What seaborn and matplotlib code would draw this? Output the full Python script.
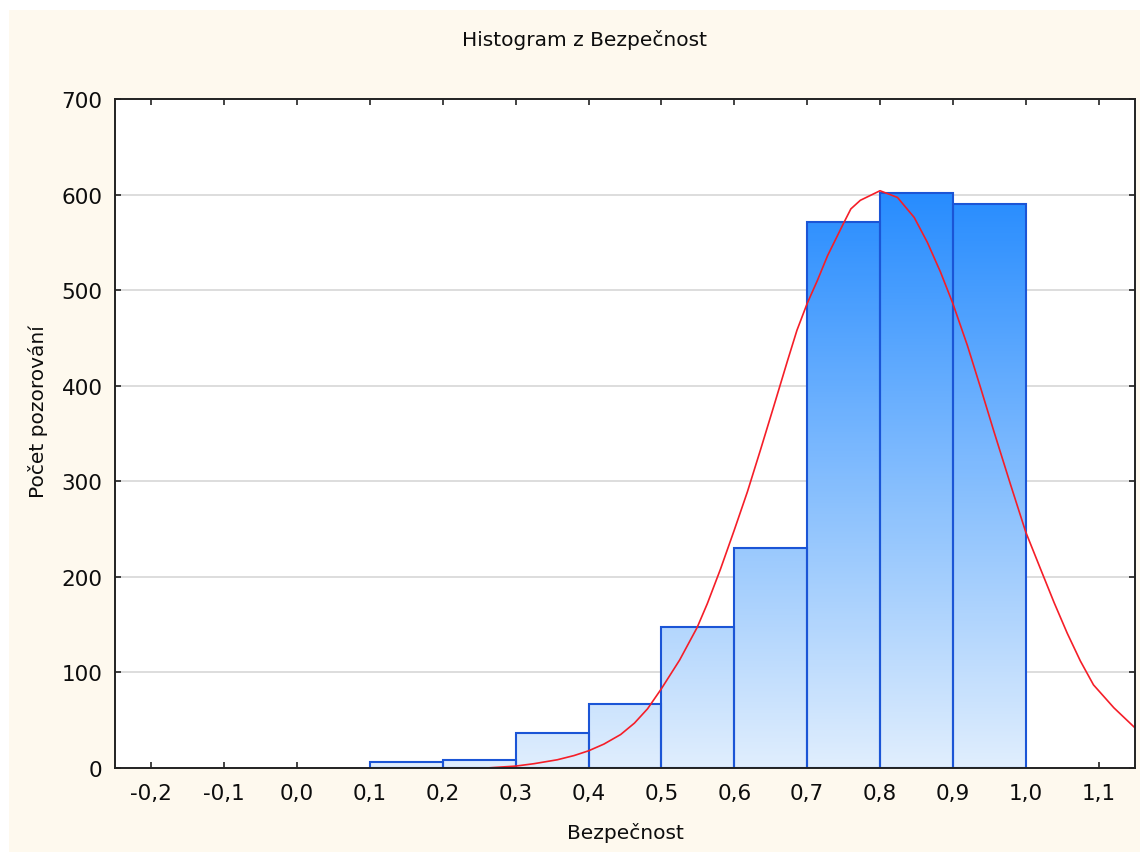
import numpy as np
import pandas as pd
import matplotlib
matplotlib.use("Agg")
import matplotlib.pyplot as plt
from matplotlib.colors import LinearSegmentedColormap
from matplotlib.patches import Rectangle
import seaborn as sns

# ---------------- data ----------------
bin_edges = [0.1, 0.2, 0.3, 0.4, 0.5, 0.6, 0.7, 0.8, 0.9, 1.0]
bin_counts = [6, 8, 37, 67, 148, 230, 571, 602, 590]

curve_x = [0.26, 0.30, 0.325, 0.357, 0.38, 0.40, 0.421, 0.444, 0.463, 0.481,
           0.50, 0.525, 0.549, 0.563, 0.581, 0.60, 0.618, 0.636, 0.654, 0.673,
           0.686, 0.70, 0.714, 0.728, 0.75, 0.76, 0.773, 0.80, 0.824, 0.847,
           0.865, 0.883, 0.90, 0.92, 0.938, 0.956, 0.979, 1.00, 1.021, 1.039,
           1.057, 1.075, 1.093, 1.121, 1.15]
curve_y = [0, 2, 4.5, 8.6, 13, 18, 25, 35, 47, 62,
           83, 113, 147, 172, 208, 249, 289, 333, 378, 426,
           458, 486, 510, 536, 570, 585, 594, 604, 597, 576,
           550, 519, 486, 442, 398, 353, 297, 247, 207, 173,
           141, 112, 87, 63, 42]

x_ticks = [-0.2, -0.1, 0.0, 0.1, 0.2, 0.3, 0.4, 0.5, 0.6, 0.7, 0.8, 0.9, 1.0, 1.1]
x_tick_labels = ["-0,2", "-0,1", "0,0", "0,1", "0,2", "0,3", "0,4", "0,5",
                 "0,6", "0,7", "0,8", "0,9", "1,0", "1,1"]
y_ticks = [0, 100, 200, 300, 400, 500, 600, 700]
y_tick_labels = ["0", "100", "200", "300", "400", "500", "600", "700"]

title_text = "Histogram z Bezpečnost"
x_label = "Bezpečnost"
y_label = "Počet pozorování"

# ---------------- style ----------------
sns.set_theme(style="white")
plt.rcParams["font.family"] = ["DejaVu Sans"]
FS = 14.5
TFS = 15.5
TXT = "#0d0d0d"

W, H = 1140, 853
fig = plt.figure(figsize=(W / 100, H / 100), dpi=100, facecolor="white")
fig.patches.append(Rectangle((9 / W, -0.05), 1.1, 1.05 - 11 / H, transform=fig.transFigure,
                             facecolor="#FEF9EE", edgecolor="none", zorder=-10))

ax = fig.add_axes([115 / W, 1 - 769 / H, (1135 - 115) / W, (769 - 100) / H])
ax.set_facecolor("white")

centers = [(a + b) / 2 for a, b in zip(bin_edges[:-1], bin_edges[1:])]
df = pd.DataFrame({"x": centers, "w": bin_counts})
sns.histplot(data=df, x="x", weights="w", bins=bin_edges, ax=ax,
             stat="count", element="bars", fill=True,
             facecolor="none", edgecolor="#1b55d6", linewidth=1.5, zorder=3)

# gradient fill for each bar (colour by absolute height)
cmap = LinearSegmentedColormap.from_list("grad", ["#E0EEFD", "#258BFF"])
VMAX = 610.0
for p in ax.patches:
    x0 = p.get_x()
    w = p.get_width()
    h = p.get_height()
    if h <= 0:
        continue
    p.set_facecolor("none")
    p.set_zorder(3)
    grad = np.linspace(0, h / VMAX, 256).reshape(-1, 1)
    ax.imshow(grad, cmap=cmap, vmin=0, vmax=1, origin="lower", aspect="auto",
              extent=[x0, x0 + w, 0, h], interpolation="bilinear", zorder=2)

sns.lineplot(x=curve_x, y=curve_y, ax=ax, color="#F51E28", linewidth=1.2,
             sort=False, zorder=4)

ax.set_xlim(-0.25, 1.15)
ax.set_ylim(0, 700)
ax.set_xticks(x_ticks)
ax.set_xticklabels(x_tick_labels)
ax.set_yticks(y_ticks)
ax.set_yticklabels(y_tick_labels)

ax.yaxis.grid(True, color="#DADADA", linewidth=1.3, zorder=0)
ax.xaxis.grid(False)
ax.set_axisbelow(True)

for s in ax.spines.values():
    s.set_visible(True)
    s.set_color("#222222")
    s.set_linewidth(1.4)
    s.set_zorder(5)

ax.tick_params(axis="x", which="both", direction="in", length=4, width=1.2,
               color="#222222", top=True, bottom=True, labelsize=TFS,
               labelcolor=TXT, pad=11)
ax.tick_params(axis="y", which="both", direction="in", length=4, width=1.2,
               color="#222222", left=True, right=True, labelsize=TFS,
               labelcolor=TXT, pad=9)

ax.set_xlabel(x_label, fontsize=FS, color=TXT)
ax.set_ylabel(y_label, fontsize=FS, color=TXT)
ax.xaxis.set_label_coords(0.5, -0.0957)
ax.xaxis.label.set_va("center")
ax.yaxis.set_label_coords(-0.0755, 0.534)
ax.yaxis.label.set_va("center")
ax.yaxis.label.set_ha("center")

fig.text(585 / W, 1 - 40 / H, title_text, fontsize=FS, color=TXT,
         ha="center", va="center")

fig.savefig("out.png", dpi=100, facecolor=fig.get_facecolor())
